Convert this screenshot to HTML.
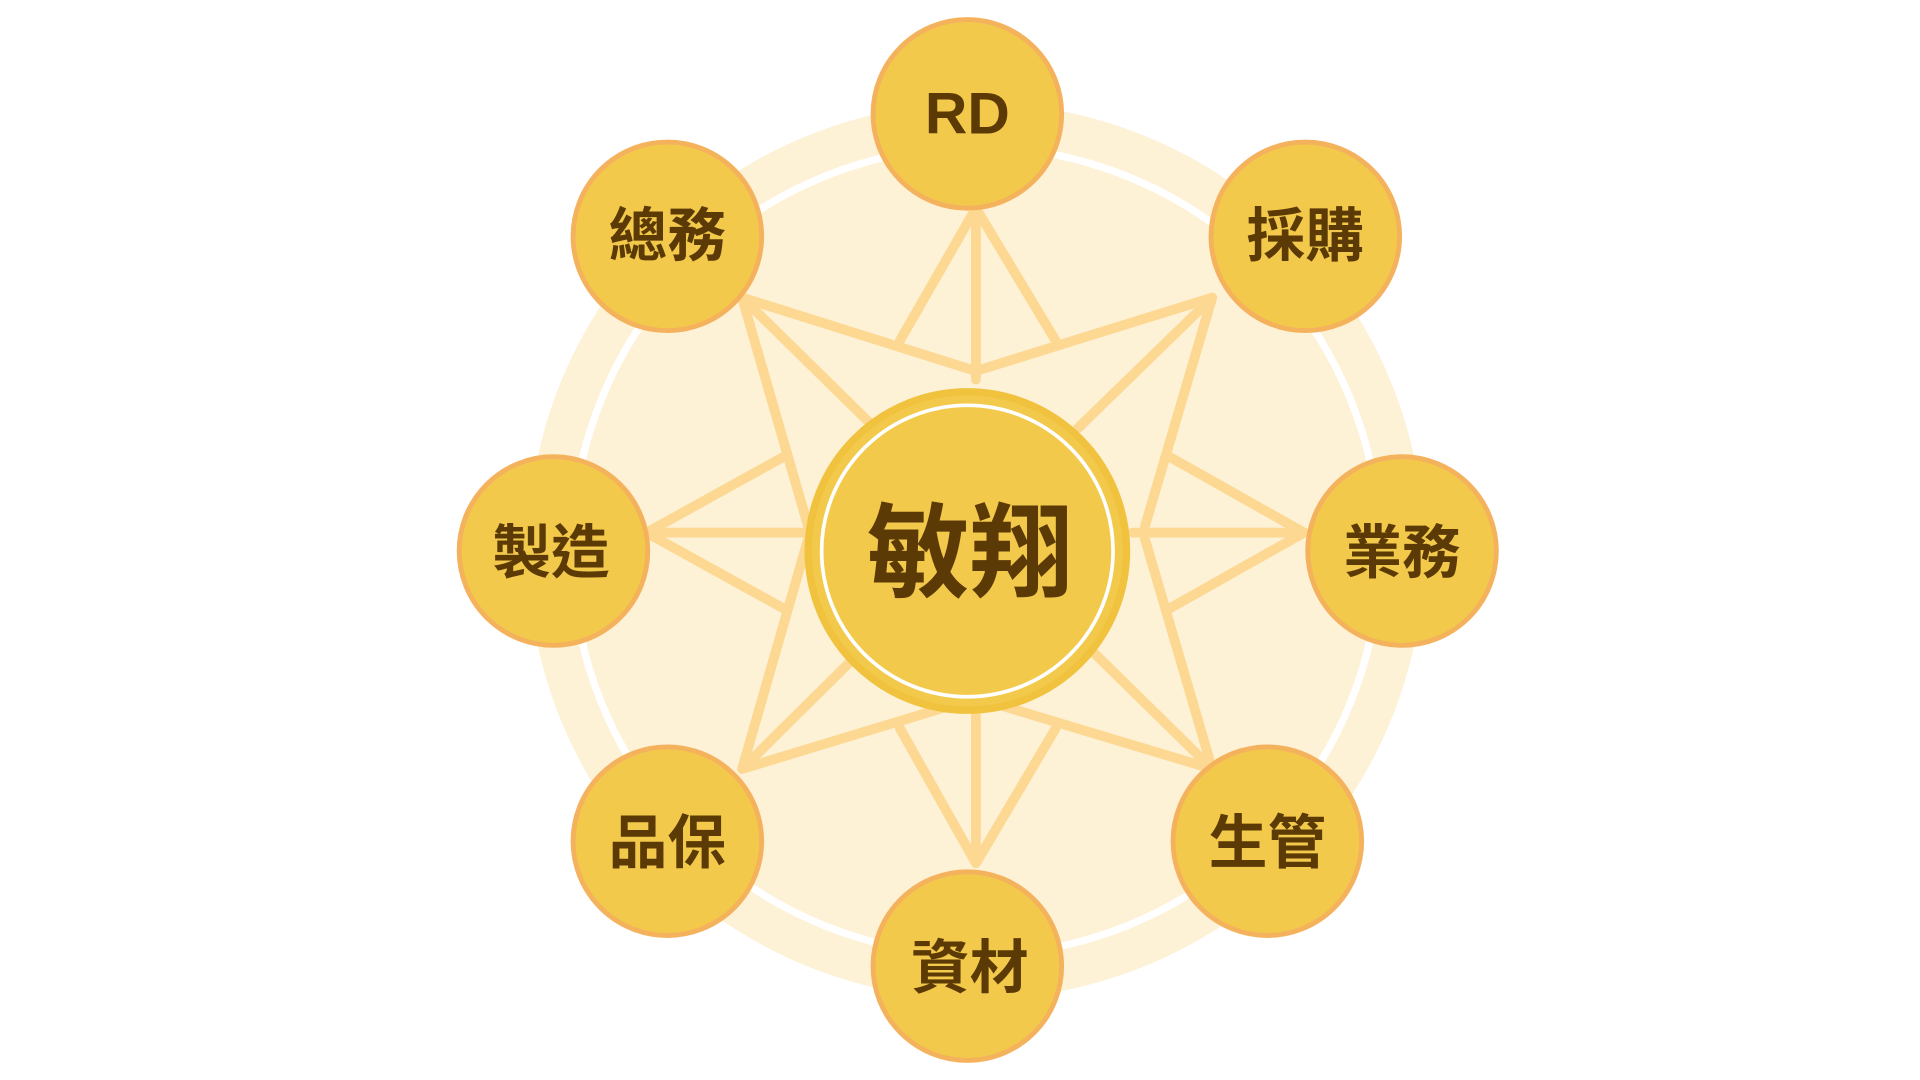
<!DOCTYPE html>
<html><head><meta charset="utf-8"><style>
html,body{margin:0;padding:0;background:#fff;width:1920px;height:1080px;overflow:hidden}
svg{display:block}
text{font-family:"Liberation Sans","Noto Sans CJK TC",sans-serif;font-weight:bold;fill:#5b3a06;text-anchor:middle;dominant-baseline:central}
</style></head><body>
<svg width="1920" height="1080" viewBox="0 0 1568 882">
<circle cx="797" cy="450" r="366" fill="#fdf1d6"/>
<circle cx="797" cy="450" r="330" fill="none" stroke="#fff" stroke-width="6"/>
<g stroke="#fdd892" stroke-width="8" stroke-linecap="round" fill="none">
<path d="M797,170 L735,278 M797,170 L862,278 M797,170 L797,310"/>
<path d="M797,705 L735,595 M797,705 L862,595 M797,705 L797,570"/>
<path d="M528,435 L640,373 M528,435 L640,497 M528,435 L665,435"/>
<path d="M1065,435 L955,373 M1065,435 L955,497 M1065,435 L925,435"/>
<path d="M606,243 L797,303 M606,243 L660,430 M606,243 L715,350"/>
<path d="M990,243 L797,303 M990,243 L935,430 M990,243 L880,350"/>
<path d="M606,628 L797,570 M606,628 L660,440 M606,628 L715,520"/>
<path d="M990,628 L797,570 M990,628 L935,440 M990,628 L880,520"/>
</g>
<circle cx="790" cy="450" r="130" fill="#f3c94b" stroke="#f0c23e" stroke-width="6"/>
<circle cx="790" cy="450" r="119" fill="none" stroke="#fff" stroke-width="3"/>
<text x="792" y="452" font-size="84">敏翔</text>
<g fill="#f3c94b" stroke="#f5b25c" stroke-width="4">
<circle cx="790" cy="93" r="77"/>
<circle cx="1066" cy="193" r="77"/>
<circle cx="1145" cy="450" r="77"/>
<circle cx="1035" cy="687" r="77"/>
<circle cx="790" cy="789" r="77"/>
<circle cx="545" cy="687" r="77"/>
<circle cx="452" cy="450" r="77"/>
<circle cx="545" cy="193" r="77"/>
</g>
<g font-size="48">
<text x="790" y="93">RD</text>
<text x="1066" y="193">採購</text>
<text x="1145" y="452">業務</text>
<text x="1035" y="689">生管</text>
<text x="792" y="791">資材</text>
<text x="545" y="689">品保</text>
<text x="450" y="452">製造</text>
<text x="545" y="193">總務</text>
</g>
</svg>
</body></html>
